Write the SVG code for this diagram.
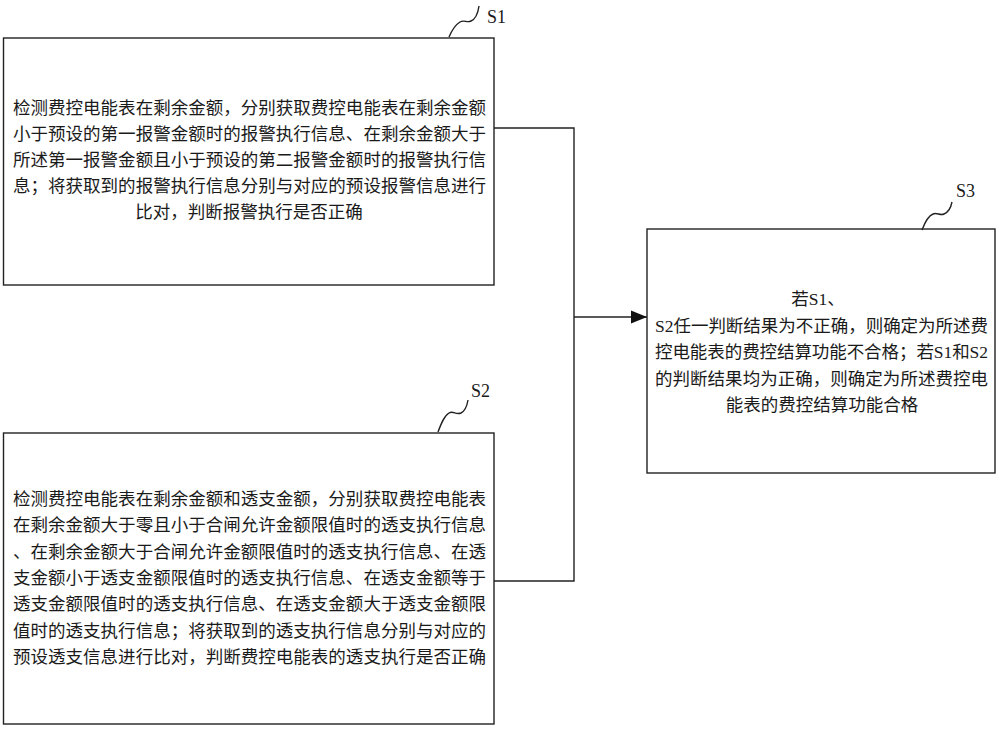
<svg xmlns="http://www.w3.org/2000/svg" width="1000" height="729" viewBox="0 0 1000 729">
  <style>
    .box { fill: #ffffff; stroke: #222222; stroke-width: 1.4; }
    .conn { fill: none; stroke: #222222; stroke-width: 1.4; }
    .sq { fill: none; stroke: #222222; stroke-width: 1.4; }
    .t { font-family: "Liberation Serif", "Noto Sans CJK SC", serif; font-size: 17.5px; fill: #1a1a1a; }
    .lbl { font-family: "Liberation Serif", "Noto Sans CJK SC", serif; font-size: 18px; fill: #1a1a1a; }
  </style>
  <defs>
    <marker id="arrow" markerWidth="16" markerHeight="14" refX="16" refY="7" orient="auto" markerUnits="userSpaceOnUse">
      <polygon points="0,0.5 16,7 0,13.5" fill="#111111"/>
    </marker>
  </defs>
  <rect width="1000" height="729" fill="#ffffff"/>

  <g id="connectors">
    <polyline class="conn" points="494,128 574,128 574,581 494,581"/>
    <line class="conn" x1="574" y1="317" x2="647" y2="317" marker-end="url(#arrow)"/>
  </g>

  <g id="S1">
    <rect class="box" x="3.5" y="38" width="490.5" height="247"/>
    <path class="sq" d="M449,37 C452,30 455,25 460,22 C464,19.5 467,23 471,21 C476,19 478,13 479,6"/>
    <text class="lbl" x="487" y="23">S1</text>
    <text class="t" x="13" y="114" textLength="473" lengthAdjust="spacing">检测费控电能表在剩余金额，分别获取费控电能表在剩余金额</text>
    <text class="t" x="13" y="140" textLength="473" lengthAdjust="spacing">小于预设的第一报警金额时的报警执行信息、在剩余金额大于</text>
    <text class="t" x="13" y="166" textLength="473" lengthAdjust="spacing">所述第一报警金额且小于预设的第二报警金额时的报警执行信</text>
    <text class="t" x="13" y="192" textLength="473" lengthAdjust="spacing">息；将获取到的报警执行信息分别与对应的预设报警信息进行</text>
    <text class="t" x="249" y="218" text-anchor="middle">比对，判断报警执行是否正确</text>
  </g>

  <g id="S2">
    <rect class="box" x="3.5" y="433" width="490.5" height="291"/>
    <path class="sq" d="M438,432 C441,424 444,416 449,413 C453,410.5 456,415 461,413 C465,411 467,406 468,400"/>
    <text class="lbl" x="471" y="397">S2</text>
    <text class="t" x="13" y="505" textLength="473" lengthAdjust="spacing">检测费控电能表在剩余金额和透支金额，分别获取费控电能表</text>
    <text class="t" x="13" y="531" textLength="473" lengthAdjust="spacing">在剩余金额大于零且小于合闸允许金额限值时的透支执行信息</text>
    <text class="t" x="13" y="557.5" textLength="473" lengthAdjust="spacing">、在剩余金额大于合闸允许金额限值时的透支执行信息、在透</text>
    <text class="t" x="13" y="584" textLength="473" lengthAdjust="spacing">支金额小于透支金额限值时的透支执行信息、在透支金额等于</text>
    <text class="t" x="13" y="610" textLength="473" lengthAdjust="spacing">透支金额限值时的透支执行信息、在透支金额大于透支金额限</text>
    <text class="t" x="13" y="636.5" textLength="473" lengthAdjust="spacing">值时的透支执行信息；将获取到的透支执行信息分别与对应的</text>
    <text class="t" x="13" y="663" textLength="473" lengthAdjust="spacing">预设透支信息进行比对，判断费控电能表的透支执行是否正确</text>
  </g>

  <g id="S3">
    <rect class="box" x="647" y="229" width="348" height="244"/>
    <path class="sq" d="M922,230 C925,222 928,216 933,214 C937,212 940,216 944,214 C949,212 951,207 952,202"/>
    <text class="lbl" x="956" y="197">S3</text>
    <text class="t" x="818" y="305" text-anchor="middle">若S1、</text>
    <text class="t" x="655" y="331.5" textLength="333" lengthAdjust="spacing">S2任一判断结果为不正确，则确定为所述费</text>
    <text class="t" x="655" y="358" textLength="333" lengthAdjust="spacing">控电能表的费控结算功能不合格；若S1和S2</text>
    <text class="t" x="655" y="384.5" textLength="333" lengthAdjust="spacing">的判断结果均为正确，则确定为所述费控电</text>
    <text class="t" x="822" y="411" text-anchor="middle">能表的费控结算功能合格</text>
  </g>
</svg>
